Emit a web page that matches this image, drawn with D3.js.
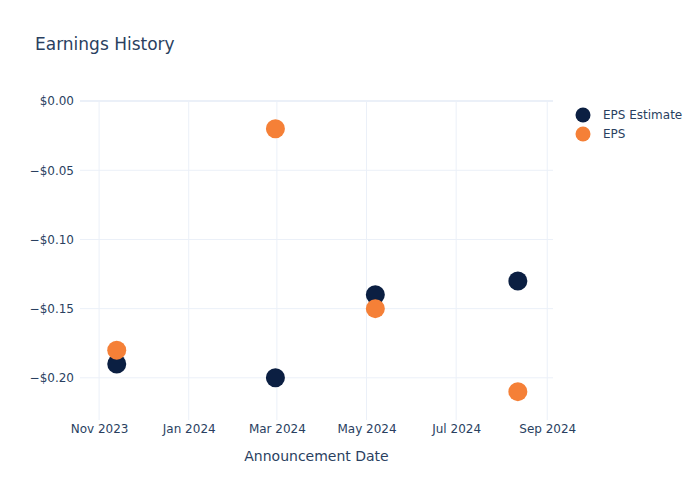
<!DOCTYPE html>
<html>
<head>
<meta charset="utf-8">
<script src="https://cdn.jsdelivr.net/npm/d3@7"></script>
<style>
  body { margin: 0; background: #fff; }
  svg { font-family: "DejaVu Sans", sans-serif; }
</style>
</head>
<body>
<svg id="chart" width="700" height="500"></svg>
<script>
const dates = ["2023-11-13", "2024-02-29", "2024-05-07", "2024-08-12"];
const epsEstimate = [-0.19, -0.20, -0.14, -0.13];
const eps = [-0.18, -0.02, -0.15, -0.21];
const yTicks = [0, -0.05, -0.10, -0.15, -0.20];
const xTicks = ["2023-11-01", "2024-01-01", "2024-03-01", "2024-05-01", "2024-07-01", "2024-09-01"];
const seriesNames = ["EPS Estimate", "EPS"];
const seriesColors = ["#0b1f42", "#f58037"];

(function () {
const parse = d3.timeParse("%Y-%m-%d");
const svg = d3.select("#chart");
const pLeft = 80, pRight = 553, pTop = 100, pBottom = 420;
const textColor = "#2a3f5f";
const gridColor = "#ebf0f8";
const font = '"DejaVu Sans", sans-serif';

const x = d3.scaleTime()
  .domain([parse("2023-10-19"), new Date(2024, 8, 4, 22)])
  .range([pLeft, pRight]);
const y = d3.scaleLinear()
  .domain([0.0008, -0.2305])
  .range([pTop, pBottom]);

// grid
const g = svg.append("g");
g.selectAll(".vg").data(xTicks).join("line")
  .attr("x1", d => x(parse(d))).attr("x2", d => x(parse(d)))
  .attr("y1", pTop).attr("y2", pBottom)
  .attr("stroke", gridColor).attr("stroke-width", 1);
g.selectAll(".hg").data(yTicks).join("line")
  .attr("x1", pLeft).attr("x2", pRight)
  .attr("y1", d => y(d)).attr("y2", d => y(d))
  .attr("stroke", gridColor).attr("stroke-width", d => d === 0 ? 2 : 1);

// axes
const fmtY = d => (d < 0 ? "\u2212" : "") + "$" + Math.abs(d).toFixed(2);
const yAxis = d3.axisLeft(y).tickValues(yTicks).tickFormat(fmtY).tickSize(0).tickPadding(5);
const ya = svg.append("g").attr("transform", `translate(${pLeft - 1},0)`).call(yAxis);
ya.select(".domain").remove();
ya.selectAll("text").attr("fill", textColor).style("font-size", "12px")
  .style("font-family", font);

const fmtX = d3.timeFormat("%b %Y");
const xAxis = d3.axisBottom(x).tickValues(xTicks.map(parse)).tickFormat(fmtX).tickSize(0).tickPadding(4);
const xa = svg.append("g").attr("transform", `translate(0,${pBottom})`).call(xAxis);
xa.select(".domain").remove();
xa.selectAll("text").attr("fill", textColor).style("font-size", "12px")
  .style("font-family", font);

// axis title
svg.append("text").attr("x", (pLeft + pRight) / 2).attr("y", 461)
  .attr("text-anchor", "middle").attr("fill", textColor)
  .style("font-size", "14px").text("Announcement Date");

// title
svg.append("text").attr("x", 35).attr("y", 50)
  .attr("fill", textColor).style("font-size", "17px").text("Earnings History");

// points
const series = [epsEstimate, eps];
series.forEach((vals, i) => {
  svg.append("g").selectAll("circle").data(vals).join("circle")
    .attr("cx", (d, j) => x(parse(dates[j])))
    .attr("cy", d => y(d))
    .attr("r", 9.5)
    .attr("fill", seriesColors[i]);
});

// legend
const lg = svg.append("g").attr("transform", "translate(583,115)");
seriesNames.forEach((n, i) => {
  lg.append("circle").attr("cx", 0).attr("cy", i * 19).attr("r", 7.5).attr("fill", seriesColors[i]);
  lg.append("text").attr("x", 20).attr("y", i * 19 + 4).attr("fill", textColor)
    .style("font-size", "12px").text(n);
});
})();
</script>
</body>
</html>
